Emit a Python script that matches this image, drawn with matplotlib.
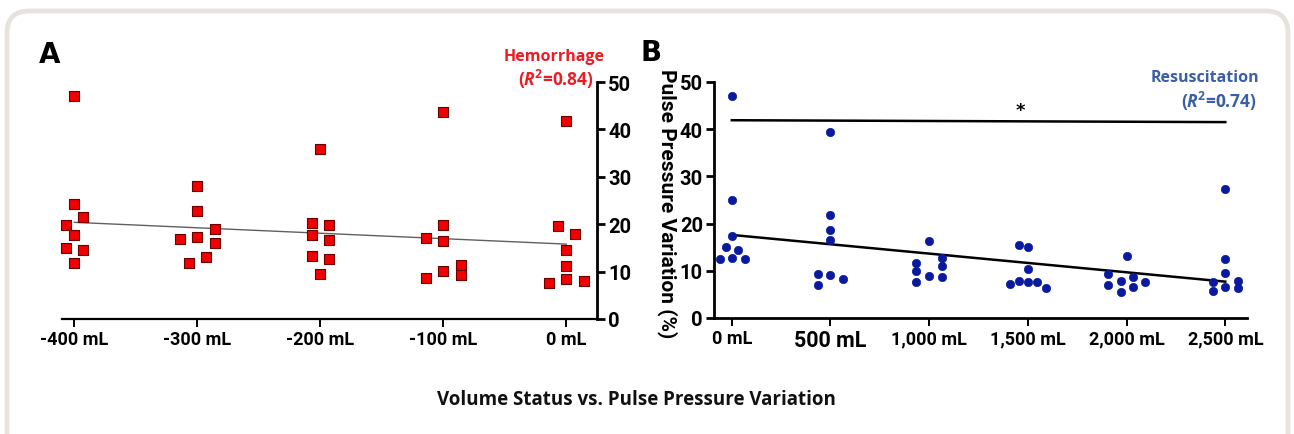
import matplotlib
matplotlib.use('Agg')
import matplotlib.pyplot as plt
from matplotlib.patches import FancyBboxPatch

# ---------------- data ----------------
# panel A: hemorrhage (volume removed, mL) vs PPV (%)
hemX = [-400, -400, -393, -407, -400, -407, -393, -400,
        -300, -300, -286, -300, -314, -286, -293, -307,
        -200, -207, -193, -207, -193, -207, -193, -200,
        -100, -100, -114, -100, -86, -100, -86, -114,
        0, -7, 7, 0, 0, 0, -14, 14]
hemY = [47.1, 24.3, 21.5, 19.8, 17.7, 15.0, 14.5, 11.8,
        28.0, 22.7, 18.9, 17.3, 16.9, 16.1, 13.1, 11.8,
        35.8, 20.3, 19.8, 17.8, 16.6, 13.2, 12.7, 9.4,
        43.7, 19.9, 17.1, 16.4, 11.4, 10.1, 9.3, 8.6,
        41.7, 19.6, 18.0, 14.5, 11.1, 8.5, 7.6, 8.0]
hemFitX = [-400, 0]
hemFitY = [20.4, 15.8]
hemTicks = [-400, -300, -200, -100, 0]
hemTickLabels = ['-400 mL', '-300 mL', '-200 mL', '-100 mL', '0 mL']

# panel B: resuscitation (volume given, mL) vs PPV (%)
resX = [0, 0, 0, -30, 33, -62, 0, 66,
        500, 500, 500, 500, 435, 500, 565, 435,
        1000, 935, 1065, 935, 1065, 1000, 1065, 935,
        1454, 1500, 1500, 1454, 1500, 1546, 1408, 1592,
        2000, 1908, 2030, 1970, 2092, 1908, 2030, 1970,
        2500, 2500, 2500, 2437, 2565, 2500, 2565, 2437]
resY = [47.1, 25.1, 17.3, 15.0, 14.4, 12.6, 12.7, 12.6,
        39.3, 21.8, 18.6, 16.5, 9.4, 9.1, 8.3, 6.9,
        16.4, 11.6, 12.7, 10.0, 11.0, 8.8, 8.6, 7.7,
        15.5, 15.0, 10.3, 7.8, 7.6, 7.6, 7.1, 6.4,
        13.1, 9.4, 8.7, 7.8, 7.7, 7.0, 6.6, 5.5,
        27.4, 12.4, 9.5, 7.6, 7.9, 6.6, 6.4, 5.7]
resFitX = [0, 2500]
resFitY = [17.6, 7.7]
sigX = [0, 2500]
sigY = [41.9, 41.5]
starPos = [1460, 44.0]
resTicks = [0, 500, 1000, 1500, 2000, 2500]
resTickLabels = ['0 mL', '500 mL', '1,000 mL', '1,500 mL', '2,000 mL', '2,500 mL']
yTicks = [0, 10, 20, 30, 40, 50]

tickFont = 'Roboto'
redC = '#f00000'
blueC = '#0a1a9e'
hemTxt = '#ec1c24'
resTxt = '#3b5ea6'

plt.rcParams['mathtext.fontset'] = 'custom'
plt.rcParams['mathtext.bf'] = 'Open Sans:bold'
plt.rcParams['mathtext.bfit'] = 'Open Sans:italic:bold'
plt.rcParams['mathtext.rm'] = 'Open Sans'

fig = plt.figure(figsize=(12.94, 4.35), dpi=100)

# rounded frame behind everything
frame = FancyBboxPatch((0.07, -0.6), 12.81, 4.83,
                       boxstyle='round,pad=0,rounding_size=0.22',
                       transform=fig.dpi_scale_trans,
                       facecolor='none', edgecolor='#e6e3dd', linewidth=3.4,
                       zorder=-10)
fig.patches.append(frame)

############################## panel A ########################################
ax = fig.add_axes([0.0479, 0.2644, 0.4135, 0.5446])
ax.patch.set_alpha(0)
ax.scatter(hemX, hemY, marker='s', s=62, facecolor=redC, edgecolor='#6a0000',
           linewidth=0.8, zorder=3, clip_on=False)
ax.plot(hemFitX, hemFitY, color='#606060', lw=1.0, zorder=2)
ax.set_xlim(-410, 25)
ax.set_ylim(0, 50)
ax.spines['top'].set_visible(False)
ax.spines['left'].set_visible(False)
ax.spines['right'].set_linewidth(2.0)
ax.spines['bottom'].set_linewidth(1.6)
ax.yaxis.tick_right()
ax.set_yticks(yTicks)
ax.set_xticks(hemTicks)
ax.set_xticklabels(hemTickLabels)
ax.tick_params(axis='y', direction='out', length=6, width=2.0, pad=2,
               labelsize=14.5)
ax.tick_params(axis='x', direction='out', length=6, width=1.4, pad=2,
               labelsize=13)
for lab in ax.get_xticklabels() + ax.get_yticklabels():
    lab.set_family(tickFont)
    lab.set_fontweight('bold')

############################## panel B ########################################
bx = fig.add_axes([0.5518, 0.2667, 0.4119, 0.5425])
bx.patch.set_alpha(0)
bx.scatter(resX, resY, marker='o', s=36, facecolor=blueC, edgecolor=blueC,
           linewidth=0.5, zorder=3, clip_on=False)
bx.plot(resFitX, resFitY, color='black', lw=1.8, zorder=2)
bx.plot(sigX, sigY, color='black', lw=1.8)
bx.text(starPos[0], starPos[1], '*', ha='center', va='center', fontsize=13,
        fontweight='bold')
bx.set_xlim(-90, 2610)
bx.set_ylim(0, 50)
bx.spines['top'].set_visible(False)
bx.spines['right'].set_visible(False)
bx.spines['left'].set_linewidth(2.0)
bx.spines['bottom'].set_linewidth(2.0)
bx.set_yticks(yTicks)
bx.set_xticks(resTicks)
bx.set_xticklabels(resTickLabels)
bx.tick_params(axis='y', direction='out', length=6, width=2.0, pad=2,
               labelsize=14.5)
bx.tick_params(axis='x', direction='out', length=6, width=1.4, pad=2,
               labelsize=13)
for lab in bx.get_xticklabels() + bx.get_yticklabels():
    lab.set_family(tickFont)
    lab.set_fontweight('bold')
big = bx.get_xticklabels()[1]
big.set_fontsize(15.5)
bx.set_ylabel('Pulse Pressure Variation (%)', rotation=270, labelpad=0,
              fontsize=15, family=tickFont, fontweight='bold', va='center')
bx.yaxis.set_label_coords(-0.087, 0.49)

############################## annotations ####################################
fig.text(50 / 1294, 1 - 55 / 435, 'A', fontsize=20, fontweight='bold',
         ha='center', va='center')
fig.text(651 / 1294, 1 - 53 / 435, 'B', fontsize=20, fontweight='bold',
         ha='center', va='center')

fig.text(554 / 1294, 1 - 57 / 435, 'Hemorrhage', color=hemTxt, fontsize=11.5,
         fontweight='bold', ha='center', va='center', family='Open Sans')
fig.text(556 / 1294, 1 - 79 / 435, r'($\mathbfit{R}^\mathbf{2}$=0.84)',
         color=hemTxt, fontsize=12.5, fontweight='bold', ha='center',
         va='center', family='Open Sans')
fig.text(1205 / 1294, 1 - 78 / 435, 'Resuscitation', color=resTxt,
         fontsize=11.5, fontweight='bold', ha='center', va='center',
         family='Open Sans')
fig.text(1219 / 1294, 1 - 101 / 435, r'($\mathbfit{R}^\mathbf{2}$=0.74)',
         color=resTxt, fontsize=12.5, fontweight='bold', ha='center',
         va='center', family='Open Sans')

fig.text(636 / 1294, 1 - 400 / 435, 'Volume Status vs. Pulse Pressure Variation',
         fontsize=13.5, fontweight='bold', ha='center', va='center',
         family='Open Sans', color='#111111')

plt.savefig('out.png', dpi=100)
